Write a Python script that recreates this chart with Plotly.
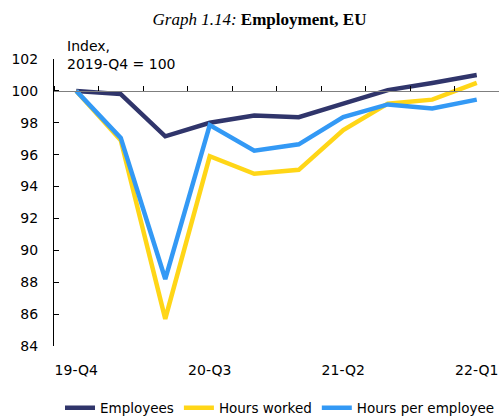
import plotly.graph_objects as go

quarters = ["19-Q4", "20-Q1", "20-Q2", "20-Q3", "20-Q4", "21-Q1", "21-Q2", "21-Q3", "21-Q4", "22-Q1"]
tick_labels = ["19-Q4", "20-Q3", "21-Q2", "22-Q1"]
employees = [100.0, 99.8, 97.15, 98.0, 98.45, 98.35, 99.2, 100.05, 100.5, 101.0]
hours_worked = [100.0, 96.9, 85.7, 95.9, 94.8, 95.05, 97.55, 99.2, 99.45, 100.5]
hours_per_employee = [100.0, 97.05, 88.2, 97.85, 96.25, 96.65, 98.35, 99.15, 98.9, 99.45]

navy = "#30356B"
yellow = "#FFD617"
blue = "#3399F5"
font_family = "DejaVu Sans"

fig = go.Figure()
fig.add_trace(go.Scatter(x=quarters, y=employees, name="Employees", mode="lines",
                         line=dict(color=navy, width=4.5)))
fig.add_trace(go.Scatter(x=quarters, y=hours_worked, name="Hours worked", mode="lines",
                         line=dict(color=yellow, width=4.5)))
fig.add_trace(go.Scatter(x=quarters, y=hours_per_employee, name="Hours per employee", mode="lines",
                         line=dict(color=blue, width=4.5)))
# invisible trace to carry the axis drawn at 100
fig.add_trace(go.Scatter(x=quarters, y=employees, xaxis="x2", mode="lines",
                         line=dict(color="rgba(0,0,0,0)", width=0), showlegend=False,
                         hoverinfo="skip"))

fig.update_layout(
    width=499, height=416,
    margin=dict(l=54, r=0, t=59, b=70, autoexpand=False),
    paper_bgcolor="white", plot_bgcolor="white",
    font=dict(family=font_family, size=14, color="#000000"),
    title=dict(
        text="<i>Graph 1.14:</i> <b>Employment, EU</b>",
        font=dict(family="Liberation Serif", size=17, color="#000000"),
        x=(259.5) / 499, xanchor="center", y=1 - 19 / 416, yanchor="middle",
    ),
    xaxis=dict(
        type="category", categoryorder="array", categoryarray=quarters,
        range=[-0.5, 9.5], tickmode="array", tickvals=tick_labels, ticktext=tick_labels,
        showline=False, showgrid=False, zeroline=False, ticks="", ticklabelstandoff=14,
        tickfont=dict(size=14), automargin=False,
    ),
    xaxis2=dict(
        type="category", categoryorder="array", categoryarray=quarters,
        range=[-0.5, 9.5], overlaying="x", anchor="free", position=16 / 18, side="top",
        showline=True, linecolor="#7f7f7f", linewidth=1.2,
        ticks="outside", ticklen=5, tickcolor="#000000", tickwidth=1,
        tickson="boundaries", tickmode="array", tickvals=quarters,
        showticklabels=False, showgrid=False, zeroline=False, automargin=False,
    ),
    yaxis=dict(
        range=[84, 102], tickmode="linear", tick0=84, dtick=2,
        showline=True, linecolor="#000000", linewidth=1,
        ticks="inside", ticklen=5, tickcolor="#000000",
        showgrid=False, zeroline=False, ticklabelstandoff=12,
        tickfont=dict(size=14), automargin=False,
    ),
    legend=dict(
        orientation="h", x=(280 - 54) / 445, xanchor="center", y=-(408 - 346) / 287,
        yanchor="middle", font=dict(size=13.5), tracegroupgap=0,
        bgcolor="rgba(0,0,0,0)",
    ),
    annotations=[
        dict(text="Index,<br>2019-Q4 = 100", xref="paper", yref="paper",
             x=(65 - 54) / 445, y=1 + 4 / 287, xanchor="left", yanchor="middle",
             align="left", showarrow=False, font=dict(size=14)),
    ],
)

fig.write_html("out.html", config={"displayModeBar": False},
               post_script="document.body.style.margin='0';document.body.style.overflow='hidden';")
